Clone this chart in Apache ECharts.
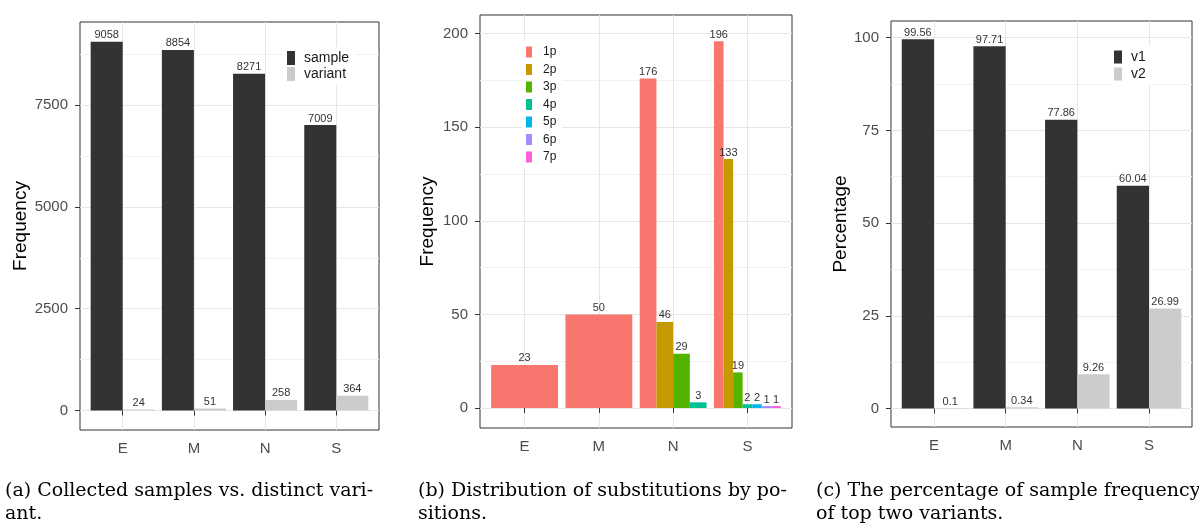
<!DOCTYPE html>
<html><head><meta charset="utf-8">
<script src="https://cdn.jsdelivr.net/npm/echarts@6/dist/echarts.min.js"></script>
<style>html,body{margin:0;padding:0;background:#fff}#c{width:1199px;height:527px}</style>
</head><body><div id="c"></div>
<script>
// ---------- data ----------
const categories = ['E', 'M', 'N', 'S'];
// (a) collected samples vs distinct variants
const sampleFreq = [9058, 8854, 8271, 7009];
const variantFreq = [24, 51, 258, 364];
const ticksA = [0, 2500, 5000, 7500];
const minorA = [1250, 3750, 6250, 8750];
// (b) substitutions by position
const positions = ['1p', '2p', '3p', '4p', '5p', '6p', '7p'];
const pos1 = [23, 50, 176, 196];
const pos2 = [null, null, 46, 133];
const pos3 = [null, null, 29, 19];
const pos4 = [null, null, 3, 2];
const pos5 = [null, null, null, 2];
const pos6 = [null, null, null, 1];
const pos7 = [null, null, null, 1];
const ticksB = [0, 50, 100, 150, 200];
const minorB = [25, 75, 125, 175];
// (c) percentage of top two variants
const v1Pct = [99.56, 97.71, 77.86, 60.04];
const v2Pct = [0.1, 0.34, 9.26, 26.99];
const ticksC = [0, 25, 50, 75, 100];
const minorC = [12.5, 37.5, 62.5, 87.5];
const captions = [
  '(a) Collected samples vs. distinct vari-\nant.',
  '(b) Distribution of substitutions by po-\nsitions.',
  '(c) The percentage of sample frequency\nof top two variants.'
];

// ---------- styling ----------
const posColors = ['#F8766D', '#C49A00', '#53B400', '#00C094', '#00B6EB', '#A58AFF', '#FB61D7'];
const catX = categories.map((c, i) => i + 1);
const GRID_LINE = '#E6E6E6';
const MINOR_LINE = '#F1F1F1';
const AXIS_COL = '#333333';
const LABEL_COL = '#4D4D4D';
const FONT = 'Liberation Sans';

const grids = [
  { left: 80, top: 22, width: 299, height: 408 },
  { left: 480, top: 15, width: 312, height: 413 },
  { left: 891, top: 21, width: 301, height: 406 }
].map(g => Object.assign({ show: true, borderColor: AXIS_COL, borderWidth: 1, backgroundColor: '#fff', z: 0 }, g));

function xAxisFor(gi) {
  return {
    type: 'value', gridIndex: gi, min: 0.4, max: 4.6,
    axisLine: { show: false },
    axisTick: { show: true, length: 5, customValues: catX, lineStyle: { color: AXIS_COL } },
    axisLabel: { customValues: catX, margin: 11, fontSize: 15, color: LABEL_COL, fontFamily: FONT,
      formatter: v => categories[Math.round(v) - 1] },
    splitLine: { show: true, lineStyle: { color: GRID_LINE, width: 1 } }
  };
}
function yMajor(gi, min, max, ticks, name, gap) {
  return {
    type: 'value', gridIndex: gi, min: min, max: max,
    name: name, nameLocation: 'middle', nameGap: gap,
    nameTextStyle: { fontSize: 19, color: '#000', fontFamily: FONT },
    axisLine: { show: false },
    axisTick: { show: true, length: 5, customValues: ticks, lineStyle: { color: AXIS_COL } },
    axisLabel: { customValues: ticks, margin: 12, fontSize: 15, color: LABEL_COL, fontFamily: FONT,
      formatter: v => String(v) },
    splitLine: { show: true, lineStyle: { color: GRID_LINE, width: 1 } }
  };
}
function yMinor(gi, min, max, ticks) {
  return {
    type: 'value', gridIndex: gi, min: min, max: max, position: 'left',
    axisLine: { show: false },
    axisTick: { show: false, customValues: ticks },
    axisLabel: { show: false, customValues: ticks },
    splitLine: { show: true, lineStyle: { color: MINOR_LINE, width: 1 } }
  };
}

const barLabel = { show: true, position: 'top', distance: 1, fontSize: 11, lineHeight: 11,
  color: '#333', fontFamily: FONT, formatter: p => String(p.value[1]) };

function barSeries(name, vals, color, xi, yi) {
  return {
    type: 'bar', name: name, xAxisIndex: xi, yAxisIndex: yi,
    data: vals.map((v, i) => [catX[i], v]),
    barGap: '0%', barCategoryGap: '10%',
    itemStyle: { color: color }, label: barLabel, z: 3
  };
}

// (b): dodge within each category among positions that are present
const posData = [pos1, pos2, pos3, pos4, pos5, pos6, pos7];
const presentPerCat = categories.map((c, i) => posData.map((arr, k) => arr[i] != null ? k : -1).filter(k => k >= 0));
const posSeries = positions.map((name, k) => ({
  type: 'custom', name: name, xAxisIndex: 1, yAxisIndex: 2, clip: false, z: 3,
  itemStyle: { color: posColors[k] },
  encode: { x: 0, y: 1 },
  data: posData[k].map((v, i) => v == null ? null :
    [catX[i], v, presentPerCat[i].indexOf(k), presentPerCat[i].length]).filter(d => d),
  renderItem: function (params, api) {
    const x = api.value(0), y = api.value(1), slot = api.value(2), n = api.value(3);
    const w = 0.9 / n;
    const x0 = x - 0.45 + slot * w;
    const p0 = api.coord([x0, 0]);
    const p1 = api.coord([x0 + w, y]);
    return {
      type: 'group', children: [
        { type: 'rect', shape: { x: p0[0], y: p1[1], width: p1[0] - p0[0], height: p0[1] - p1[1] },
          style: { fill: api.visual('color') } },
        { type: 'text', style: { text: String(y), x: (p0[0] + p1[0]) / 2, y: p1[1] - 1,
          align: 'center', verticalAlign: 'bottom', fontSize: 11, fill: '#333', fontFamily: FONT } }
      ]
    };
  }
}));

const legendBase = { orient: 'vertical', icon: 'rect', backgroundColor: '#fff', selectedMode: false };

const option = {
  animation: false,
  textStyle: { fontFamily: FONT },
  title: captions.map((t, i) => ({
    text: t, left: [5, 418, 816][i], top: 480, padding: 0,
    textStyle: { fontFamily: 'DejaVu Serif', fontSize: 19, fontWeight: 'normal', color: '#000', lineHeight: 23 }
  })),
  grid: grids,
  legend: [
    Object.assign({}, legendBase, { data: ['sample', 'variant'], left: 283, top: 47, itemWidth: 8, itemHeight: 14, itemGap: 2,
      padding: [4, 6, 4, 4], textStyle: { fontSize: 14, color: '#1a1a1a', padding: [0, 0, 0, 4] } }),
    Object.assign({}, legendBase, { data: positions, left: 522, top: 42, itemWidth: 6, itemHeight: 11, itemGap: 5.5,
      padding: [4, 6, 4, 4], textStyle: { fontSize: 12, color: '#1a1a1a', padding: [0, 0, 0, 6] } }),
    Object.assign({}, legendBase, { data: ['v1', 'v2'], left: 1110, top: 46, itemWidth: 8, itemHeight: 13, itemGap: 3,
      padding: [4, 6, 4, 4], textStyle: { fontSize: 14, color: '#1a1a1a', padding: [0, 0, 0, 4] } })
  ],
  xAxis: [xAxisFor(0), xAxisFor(1), xAxisFor(2)],
  yAxis: [
    yMajor(0, -480, 9540, ticksA, 'Frequency', 50), yMinor(0, -480, 9540, minorA),
    yMajor(1, -10.7, 210, ticksB, 'Frequency', 43), yMinor(1, -10.7, 210, minorB),
    yMajor(2, -5, 104.5, ticksC, 'Percentage', 40), yMinor(2, -5, 104.5, minorC)
  ],
  series: [
    barSeries('sample', sampleFreq, '#333333', 0, 0),
    barSeries('variant', variantFreq, '#CCCCCC', 0, 0),
    ...posSeries,
    barSeries('v1', v1Pct, '#333333', 2, 4),
    barSeries('v2', v2Pct, '#CCCCCC', 2, 4)
  ]
};

const chart = echarts.init(document.getElementById('c'));
chart.setOption(option);
</script>
</body></html>
